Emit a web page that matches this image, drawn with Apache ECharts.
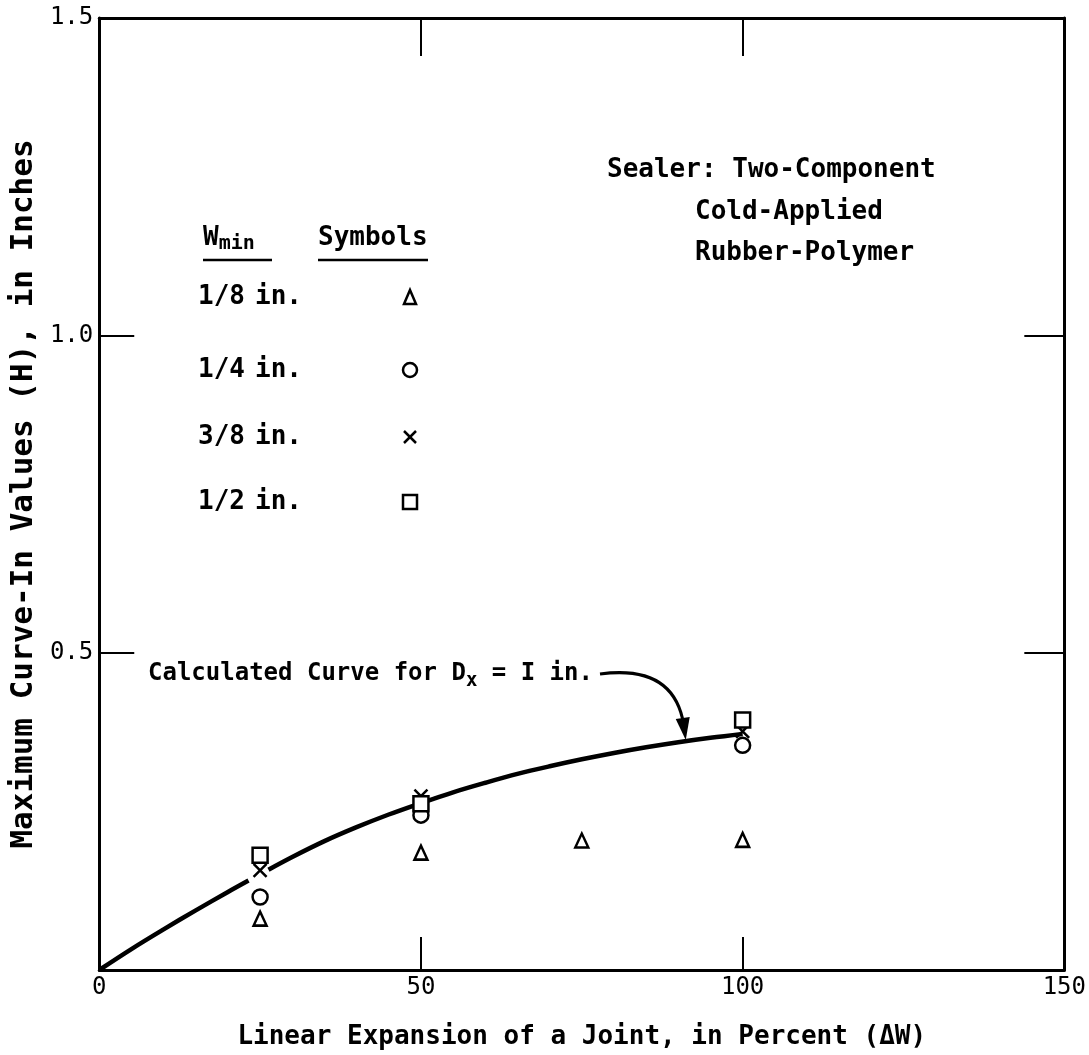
<!DOCTYPE html>
<html>
<head>
<meta charset="utf-8">
<script src="https://cdn.jsdelivr.net/npm/echarts@6/dist/echarts.min.js"></script>
<style>
  html, body { margin: 0; padding: 0; background: #ffffff; }
  #chart { width: 1089px; height: 1055px; }
</style>
</head>
<body>
<div id="chart"></div>
<script>
// Axis ranges and tick spacing
const xRange = [0, 150];
const xStep = 50;
const yRange = [0, 1.5];
const yStep = 0.5;

// Calculated curve for Dx = 1 in. (percent expansion, curve-in H in inches)
// A null point leaves the small break where the curve passes the 25 % markers.
const curveX = [0, 5, 10, 15, 20, 23.2, 25, 26.3, 30, 35, 40, 45, 50, 55, 60, 65, 70, 75, 80, 85, 90, 95, 100];
const curveH = [0, 0.033, 0.064, 0.094, 0.123, 0.141, null, 0.158, 0.178, 0.203, 0.225, 0.245, 0.263, 0.280, 0.295, 0.309, 0.321, 0.332, 0.342, 0.351, 0.359, 0.366, 0.372];

// Measured points, one list per minimum joint width
const w18X = [25, 50, 75, 100];
const w18H = [0.081, 0.185, 0.204, 0.205];
const w14X = [25, 50, 100];
const w14H = [0.115, 0.244, 0.354];
const w38X = [25, 50, 100];
const w38H = [0.157, 0.274, 0.376];
const w12X = [25, 50, 100];
const w12H = [0.181, 0.262, 0.394];

// Legend rows: width label and symbol
const legendLabels = ['1/8', '1/4', '3/8', '1/2'];
const legendSymbols = ['triangle', 'circle', 'cross', 'rect'];

const FONT = '"DejaVu Sans Mono", monospace';
const WEIGHT = 'bold';
const INK = '#000000';
const crossPath = 'path://M0,0L10,10M10,0L0,10';

function pairs(xs, ys) { return xs.map((x, i) => [x, ys[i]]); }

const markerStyle = { color: '#ffffff', borderColor: INK, borderWidth: 2.5, opacity: 1 };

const chart = echarts.init(document.getElementById('chart'), null, { renderer: 'canvas' });

const tickText = { color: INK, fontFamily: FONT, fontSize: 24 };
const frameLine = { show: true, onZero: false, lineStyle: { color: INK, width: 3 } };

const option = {
  backgroundColor: '#ffffff',
  animation: false,
  grid: { left: 91, right: 23, top: 18, bottom: 71 },
  xAxis: [
    {
      type: 'value', min: xRange[0], max: xRange[1], interval: xStep, position: 'bottom',
      name: 'Linear Expansion of a Joint, in Percent (\u0394W)',
      nameLocation: 'middle', nameGap: 54,
      nameTextStyle: { color: INK, fontFamily: FONT, fontSize: 26, fontWeight: WEIGHT },
      axisLine: frameLine,
      axisTick: { show: true, inside: true, length: 33, lineStyle: { color: INK, width: 2 } },
      axisLabel: Object.assign({ margin: 6, formatter: v => String(v) }, tickText),
      splitLine: { show: false }
    },
    {
      type: 'value', min: xRange[0], max: xRange[1], interval: xStep, position: 'top',
      axisLine: frameLine,
      axisTick: { show: true, inside: true, length: 38, lineStyle: { color: INK, width: 2 } },
      axisLabel: { show: false },
      splitLine: { show: false }
    }
  ],
  yAxis: [
    {
      type: 'value', min: yRange[0], max: yRange[1], interval: yStep, position: 'left',
      name: 'Maximum Curve-In Values (H), in Inches',
      nameLocation: 'middle', nameGap: 58,
      nameTextStyle: { color: INK, fontFamily: FONT, fontSize: 31, fontWeight: WEIGHT },
      axisLine: frameLine,
      axisTick: { show: true, inside: true, length: 35, lineStyle: { color: INK, width: 2 } },
      axisLabel: Object.assign({ margin: 6, formatter: v => (v === 0 ? '' : v.toFixed(1)) }, tickText),
      splitLine: { show: false }
    },
    {
      type: 'value', min: yRange[0], max: yRange[1], interval: yStep, position: 'right',
      axisLine: frameLine,
      axisTick: { show: true, inside: true, length: 40, lineStyle: { color: INK, width: 2 } },
      axisLabel: { show: false },
      splitLine: { show: false }
    }
  ],
  series: [
    {
      name: 'Calculated Curve', type: 'line', data: pairs(curveX, curveH),
      smooth: 0.35, connectNulls: false, showSymbol: false, symbol: 'none',
      lineStyle: { color: INK, width: 4.5 }, z: 2
    },
    {
      name: '1/8 in.', type: 'scatter', data: pairs(w18X, w18H),
      symbol: 'triangle', symbolSize: [13, 14], itemStyle: markerStyle, z: 3
    },
    {
      name: '1/4 in.', type: 'scatter', data: pairs(w14X, w14H),
      symbol: 'circle', symbolSize: 15, itemStyle: markerStyle, z: 3
    },
    {
      name: '3/8 in.', type: 'scatter', data: pairs(w38X, w38H),
      symbol: crossPath, symbolSize: 13, itemStyle: markerStyle, z: 4
    },
    {
      name: '1/2 in.', type: 'scatter', data: pairs(w12X, w12H),
      symbol: 'rect', symbolSize: 15, itemStyle: markerStyle, z: 5
    }
  ]
};

chart.setOption(option);

// Text blocks, symbol key and the annotation arrow
function buildGraphics() {
  const g = [];
  const txt = (x, y, text, size) => g.push({
    type: 'text', x: x, y: y, z: 10,
    style: { text: text, fill: INK, fontFamily: FONT, fontWeight: WEIGHT, fontSize: size || 26, verticalAlign: 'middle' }
  });

  // Sealer description
  txt(607, 170, 'Sealer: Two-Component');
  txt(695, 212, 'Cold-Applied');
  txt(695, 253, 'Rubber-Polymer');

  // Key heading
  g.push({
    type: 'text', x: 203, y: 238, z: 10,
    style: {
      text: '{w|W}{s|min}', fill: INK, verticalAlign: 'middle',
      rich: {
        w: { fontFamily: FONT, fontWeight: WEIGHT, fontSize: 26, fill: INK },
        s: { fontFamily: FONT, fontWeight: WEIGHT, fontSize: 20, fill: INK, padding: [12, 0, 0, 0] }
      }
    }
  });
  txt(318, 238, 'Symbols');
  g.push({ type: 'line', z: 10, shape: { x1: 203, y1: 260, x2: 272, y2: 260 }, style: { stroke: INK, lineWidth: 2.5 } });
  g.push({ type: 'line', z: 10, shape: { x1: 318, y1: 260, x2: 428, y2: 260 }, style: { stroke: INK, lineWidth: 2.5 } });

  // Key rows
  const rowY = [297, 370, 437, 502];
  legendLabels.forEach((lab, i) => {
    txt(198, rowY[i], lab);
    txt(255, rowY[i], 'in.');
    const cx = 410, cy = rowY[i];
    const s = { fill: '#ffffff', stroke: INK, lineWidth: 2.5 };
    const sym = legendSymbols[i];
    if (sym === 'triangle') {
      g.push({ type: 'polygon', z: 10, shape: { points: [[cx, cy - 7], [cx + 6, cy + 7], [cx - 6, cy + 7]] }, style: s });
    } else if (sym === 'circle') {
      g.push({ type: 'circle', z: 10, shape: { cx: cx, cy: cy, r: 7 }, style: s });
    } else if (sym === 'cross') {
      g.push({ type: 'line', z: 10, shape: { x1: cx - 6, y1: cy - 6, x2: cx + 6, y2: cy + 6 }, style: s });
      g.push({ type: 'line', z: 10, shape: { x1: cx + 6, y1: cy - 6, x2: cx - 6, y2: cy + 6 }, style: s });
    } else {
      g.push({ type: 'rect', z: 10, shape: { x: cx - 7, y: cy - 7, width: 14, height: 14 }, style: s });
    }
  });

  // Curve annotation
  g.push({
    type: 'text', x: 148, y: 674, z: 10,
    style: {
      text: '{a|Calculated Curve for D}{s|x}{a| = I in.}', fill: INK, verticalAlign: 'middle',
      rich: {
        a: { fontFamily: FONT, fontWeight: WEIGHT, fontSize: 24, fill: INK },
        s: { fontFamily: FONT, fontWeight: WEIGHT, fontSize: 19, fill: INK, padding: [14, 0, 0, 0] }
      }
    }
  });

  // Arrow from the label down to the curve near 91 %
  const tip = chart.convertToPixel({ xAxisIndex: 0, yAxisIndex: 0 }, [91, 0.361]);
  const start = [600, 674];
  g.push({
    type: 'bezierCurve', z: 10,
    shape: {
      x1: start[0], y1: start[1],
      cpx1: start[0] + 45, cpy1: start[1] - 6,
      cpx2: tip[0] - 8, cpy2: tip[1] - 60,
      x2: tip[0] - 1, y2: tip[1] - 16
    },
    style: { stroke: INK, lineWidth: 3, fill: 'none' }
  });
  g.push({
    type: 'polygon', z: 10,
    shape: { points: [[tip[0] - 9, tip[1] - 22], [tip[0] + 5, tip[1] - 24], [tip[0] + 1, tip[1] - 1]] },
    style: { fill: INK }
  });
  return g;
}

chart.setOption({ graphic: buildGraphics() });
</script>
</body>
</html>
